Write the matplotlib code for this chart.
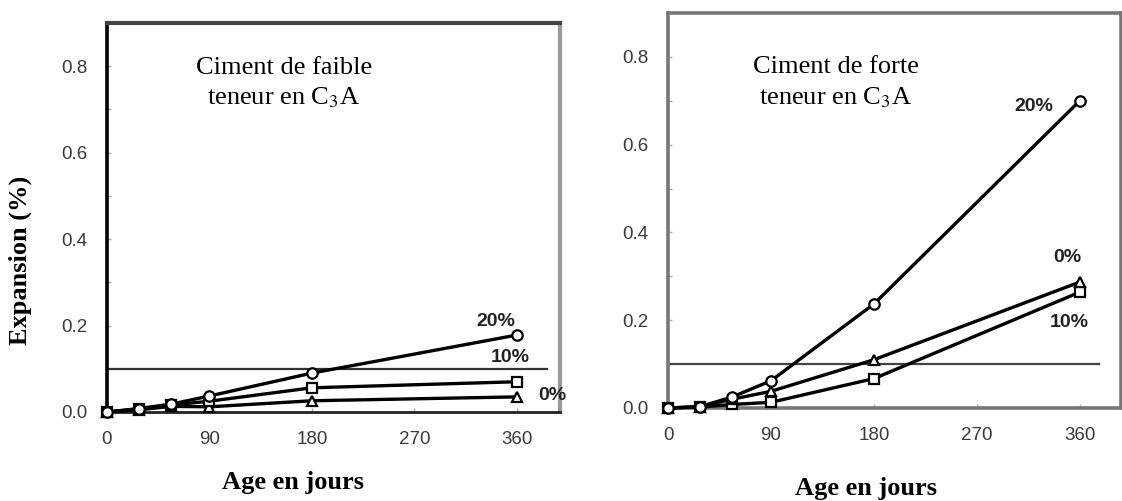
import numpy as np
import matplotlib
matplotlib.use('Agg')
import matplotlib.pyplot as plt
from matplotlib.ticker import MultipleLocator

plt.rcParams['mathtext.fontset'] = 'stix'

# data (age in days, expansion in %)
days = [0, 28, 56, 90, 180, 360]

faible_20 = [0, 0.008, 0.018, 0.037, 0.090, 0.178]
faible_10 = [0, 0.007, 0.016, 0.025, 0.056, 0.070]
faible_0 = [0, 0.005, 0.013, 0.012, 0.026, 0.035]

forte_20 = [0, 0.003, 0.025, 0.062, 0.237, 0.700]
forte_0 = [0, 0.003, 0.020, 0.038, 0.110, 0.287]
forte_10 = [0, 0.002, 0.008, 0.013, 0.067, 0.264]

limit = 0.1
x_ticks = [0, 90, 180, 270, 360]
y_ticks = [0.0, 0.2, 0.4, 0.6, 0.8]

serif = 'Liberation Serif'
sans = 'Liberation Sans'


def draw_series(ax, y, marker):
    ax.plot(days, y, color='black', linewidth=2.4, marker=marker, markersize=7.5,
            markerfacecolor='white', markeredgecolor='black', markeredgewidth=1.6,
            clip_on=False, zorder=3)


def style_axes(ax, xmax):
    ax.set_xlim(0, xmax)
    ax.set_ylim(0, 0.9)
    ax.set_xticks(x_ticks)
    ax.set_xticklabels([str(t) for t in x_ticks])
    ax.set_yticks(y_ticks)
    ax.set_yticklabels([f'{t:.1f}' for t in y_ticks])
    ax.yaxis.set_minor_locator(MultipleLocator(0.1))
    ax.tick_params(which='both', direction='in', length=3, width=1, color='#aaaaaa',
                   labelsize=13.5, labelcolor='#3a3a3a')
    ax.tick_params(axis='x', pad=14)
    ax.tick_params(axis='y', pad=14)
    for lab in ax.get_xticklabels() + ax.get_yticklabels():
        lab.set_fontfamily(sans)


def series_label(ax, x, y, txt):
    ax.text(x, y, txt, ha='center', va='center', fontsize=14, family=sans,
            fontweight='bold', color='#222222', clip_on=False)


fig = plt.figure(figsize=(11.22, 5.01), dpi=100)
ax1 = fig.add_axes([107 / 1122, 89 / 501, 453 / 1122, 389 / 501])
ax2 = fig.add_axes([668 / 1122, 93 / 501, 453 / 1122, 395 / 501])

# left panel
ax1.plot([0, 387], [limit, limit], color='#333333', linewidth=1.6, zorder=2)
draw_series(ax1, faible_0, '^')
draw_series(ax1, faible_10, 's')
draw_series(ax1, faible_20, 'o')
style_axes(ax1, 398)
ax1.spines['left'].set_color('black')
ax1.spines['left'].set_linewidth(2.6)
ax1.spines['top'].set_color('#444444')
ax1.spines['top'].set_linewidth(3)
ax1.spines['right'].set_color('#999999')
ax1.spines['right'].set_linewidth(3)
ax1.spines['bottom'].set_color('#222222')
ax1.spines['bottom'].set_linewidth(2)

ax1.text(0.39, 0.845, 'Ciment de faible\nteneur en C$_3$A', transform=ax1.transAxes,
         ha='center', va='center', fontsize=19, family=serif, linespacing=1.35)
series_label(ax1, 342, 0.209, '20%')
series_label(ax1, 354, 0.125, '10%')
series_label(ax1, 391, 0.039, '0%')
ax1.text(0.41, -0.18, 'Age en jours', transform=ax1.transAxes, ha='center', va='center',
         fontsize=19, family=serif, fontweight='bold')
fig.text(20 / 1122, 1 - 260 / 501, 'Expansion (%)', rotation=90, ha='center', va='center',
         fontsize=19, family=serif, fontweight='bold')

# right panel
ax2.plot([0, 377], [limit, limit], color='#444444', linewidth=1.6, zorder=2)
draw_series(ax2, forte_10, 's')
draw_series(ax2, forte_0, '^')
draw_series(ax2, forte_20, 'o')
style_axes(ax2, 396)
for side in ['left', 'top', 'right', 'bottom']:
    ax2.spines[side].set_color('#777777')
    ax2.spines[side].set_linewidth(2.6)

ax2.text(0.371, 0.823, 'Ciment de forte\nteneur en C$_3$A', transform=ax2.transAxes,
         ha='center', va='center', fontsize=19, family=serif, linespacing=1.35)
series_label(ax2, 320, 0.686, '20%')
series_label(ax2, 349, 0.343, '0%')
series_label(ax2, 351, 0.194, '10%')
ax2.text(0.437, -0.205, 'Age en jours', transform=ax2.transAxes, ha='center', va='center',
         fontsize=19, family=serif, fontweight='bold')

fig.savefig('out.png', dpi=100)
